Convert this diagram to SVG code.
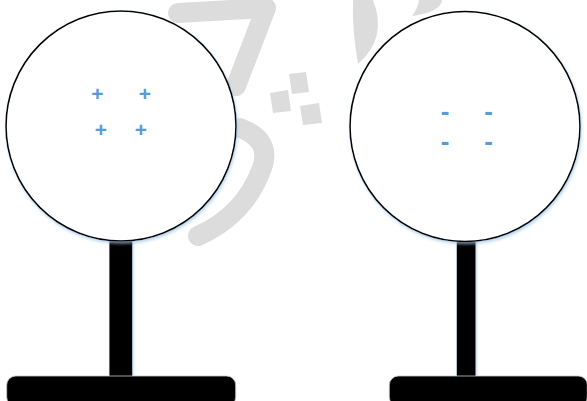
<svg xmlns="http://www.w3.org/2000/svg" width="587" height="401" viewBox="0 0 587 401">
  <defs>
    <filter id="glow" x="-10%" y="-10%" width="125%" height="125%">
      <feDropShadow dx="1" dy="2" stdDeviation="1.6" flood-color="#9dc3e6" flood-opacity="0.7"/>
    </filter>
    <style>
      .wm { fill: none; stroke: #dcdcdc; stroke-width: 20; stroke-linecap: round; stroke-linejoin: round; }
      .wmf { fill: #dcdcdc; stroke: none; }
      .ball { fill: #ffffff; stroke: #000000; stroke-width: 1.6; }
      .stem { fill: #000000; }
      .base { fill: #000000; stroke: #c8c8c8; stroke-width: 0.8; }
      .sign { fill: #5b9bd5; font-family: "Liberation Sans", Arial, sans-serif; text-anchor: middle; font-weight: bold; }
      .plus { font-size: 21px; }
      .minus { font-size: 26px; }
    </style>
  </defs>
  <rect width="587" height="401" fill="#ffffff"/>

  <!-- background watermark strokes -->
  <g id="watermark">
    <path class="wm" d="M 178 13 L 266 8 L 236 86"/>
    <path class="wm" d="M 240 128 Q 272 140 262 168 Q 245 215 198 236"/>
    <path class="wmf" d="M 289 74 L 306 72 L 309 92 L 292 94 Z"/>
    <path class="wmf" d="M 270 93 L 288 90 L 291 111 L 273 113 Z"/>
    <path class="wmf" d="M 300 106 L 319 103 L 322 123 L 303 125 Z"/>
    <path class="wmf" d="M 353 0 L 373 0 Q 388 38 358 64 Q 352 30 353 0 Z"/>
    <path class="wmf" d="M 419 0 L 442 0 Q 441 12 412 16 Q 418 8 419 0 Z"/>
  </g>

  <g id="electroscope-left">
    <rect class="stem" x="109.3" y="236" width="23" height="141" filter="url(#glow)"/>
    <rect class="base" x="6.7" y="376" width="229" height="30" rx="9" ry="9"/>
    <circle class="ball" cx="121" cy="126" r="115" filter="url(#glow)"/>
    <text class="sign plus" x="97.3" y="100.8">+</text>
    <text class="sign plus" x="145" y="100.8">+</text>
    <text class="sign plus" x="101" y="136.8">+</text>
    <text class="sign plus" x="141" y="136.8">+</text>
  </g>

  <g id="electroscope-right">
    <rect class="stem" x="456.7" y="236" width="19" height="141" filter="url(#glow)"/>
    <rect class="base" x="389.3" y="376" width="198" height="30" rx="9" ry="9"/>
    <circle class="ball" cx="465" cy="126.5" r="115" filter="url(#glow)"/>
    <text class="sign minus" x="445" y="120.3">-</text>
    <text class="sign minus" x="488.7" y="120.3">-</text>
    <text class="sign minus" x="445" y="150.3">-</text>
    <text class="sign minus" x="488.7" y="150.3">-</text>
  </g>

  <g id="connectors"></g>
</svg>
